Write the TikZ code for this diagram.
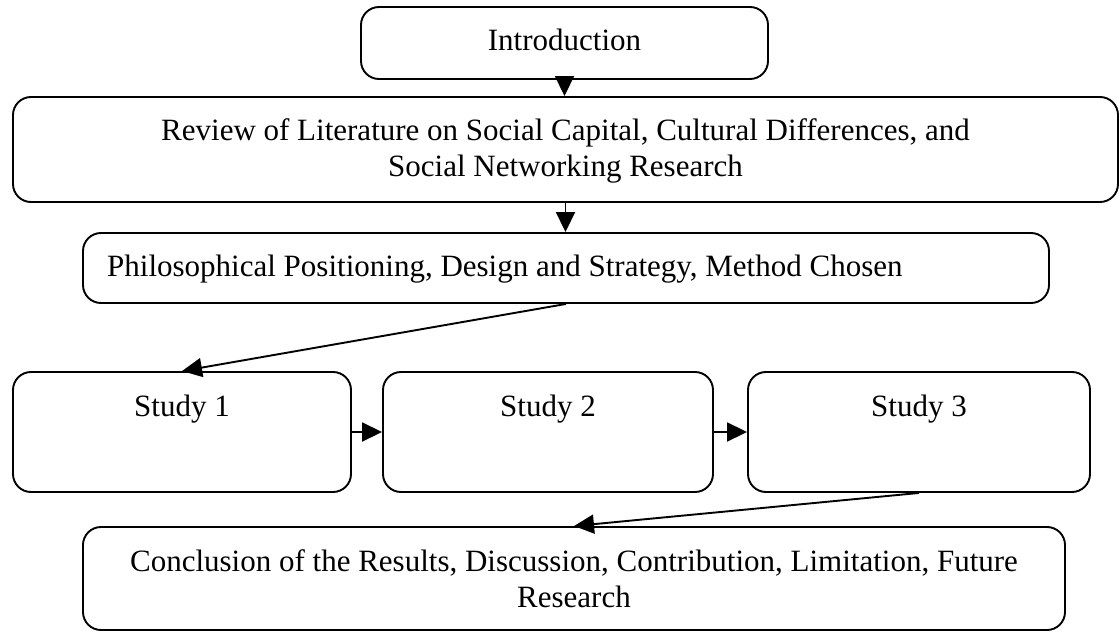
\documentclass[tikz,border=0pt]{standalone}
\usepackage{fontspec}
\setmainfont{Liberation Serif}
\usetikzlibrary{arrows.meta}
\begin{document}
\begin{tikzpicture}[x=1pt,y=-1pt,
  box/.style={draw, line width=1.9pt, rounded corners=18pt, inner sep=0pt},
  txt/.style={font=\fontsize{31pt}{36pt}\selectfont, inner sep=0pt, anchor=base},
  flow/.style={-{Triangle[length=20pt,width=19pt]}, line width=1.9pt}]

\fill[white] (0,0) rectangle (1120,634);
\useasboundingbox (0,0) rectangle (1120,634);

% boxes
\node[box, minimum width=407pt, minimum height=72pt]  (intro)  at (564.5,43)  {};
\node[box, minimum width=1105pt, minimum height=105pt] (review) at (565.5,149.5) {};
\node[box, minimum width=966pt, minimum height=70pt]  (philo)  at (566,268)   {};
\node[box, minimum width=338pt, minimum height=120pt] (s1)     at (182,432)   {};
\node[box, minimum width=330pt, minimum height=120pt] (s2)     at (548,432)   {};
\node[box, minimum width=342pt, minimum height=120pt] (s3)     at (919,432)   {};
\node[box, minimum width=982pt, minimum height=103pt] (concl)  at (574,578.5) {};

% labels
\node[txt] (tintro) at (564.5,51) {Introduction};
\node[txt] (trev1) at (565.5,140) {Review of Literature on Social Capital, Cultural Differences, and};
\node[txt] (trev2) at (565.5,176) {Social Networking Research};
\node[txt, anchor=base west] (tphilo) at (107,276) {Philosophical Positioning, Design and Strategy, Method Chosen};
\node[txt] (ts1) at (182,416) {Study 1};
\node[txt] (ts2) at (548,416) {Study 2};
\node[txt] (ts3) at (919,416) {Study 3};
\node[txt] (tcon1) at (574,571) {Conclusion of the Results, Discussion, Contribution, Limitation, Future};
\node[txt] (tcon2) at (574,607) {Research};

% connectors
\draw[flow] (intro.south) -- (intro.south |- review.north);
\draw[flow] (review.south) -- (review.south |- philo.north);
\draw[flow] (philo.south) -- (s1.north);
\draw[flow] (s1.east) -- (s2.west);
\draw[flow] (s2.east) -- (s3.west);
\draw[flow] (s3.south) -- (concl.north);
\end{tikzpicture}
\end{document}
